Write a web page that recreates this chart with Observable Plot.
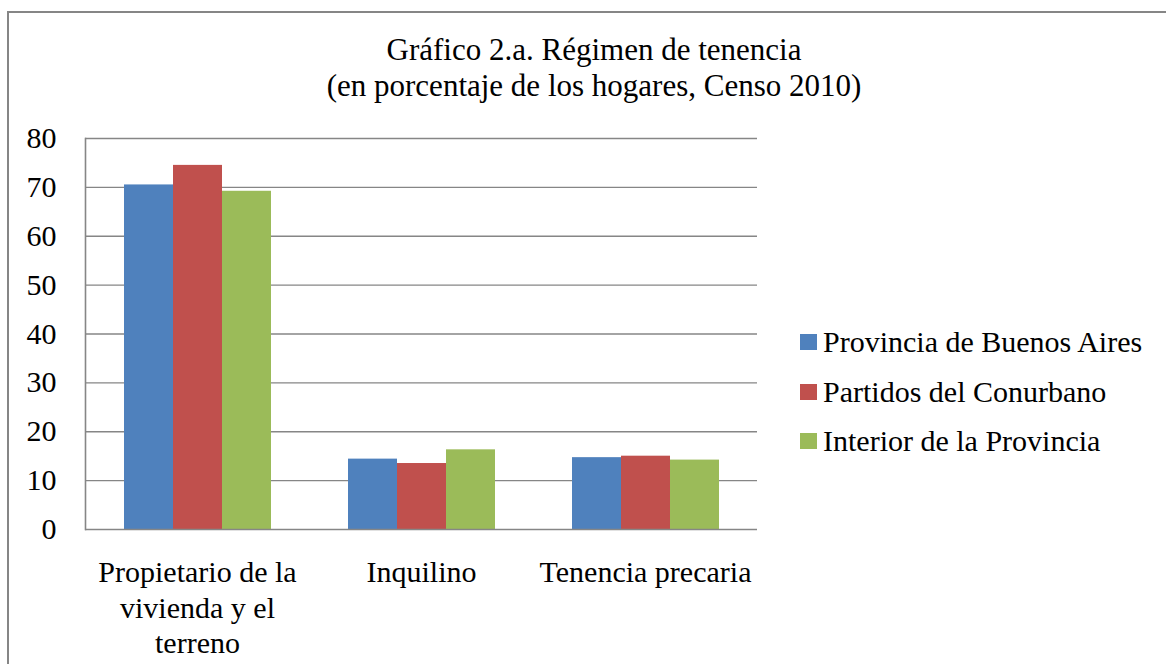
<!DOCTYPE html>
<html>
<head>
<meta charset="utf-8">
<script src="https://cdn.jsdelivr.net/npm/d3@7"></script>
<script src="https://cdn.jsdelivr.net/npm/@observablehq/plot@0.6"></script>
<style>
  body { margin: 0; background: #fff; }
  #wrap { position: relative; width: 1166px; height: 664px; overflow: hidden;
          font-family: "Liberation Serif", "DejaVu Serif", serif; color: #000; background: #fff; }
  #border { position: absolute; left: 7px; top: 11px; width: 1200px; height: 700px;
            border-left: 2px solid #868686; border-top: 2px solid #868686; }
  .title { position: absolute; left: 294px; width: 600px; text-align: center;
           font-size: 31px; line-height: 36px; white-space: nowrap; }
  #chart { position: absolute; left: 0; top: 0; }
  .lg { position: absolute; left: 800px; height: 50px; display: flex; align-items: center;
        font-size: 30px; white-space: nowrap; }
  .sw { width: 17px; height: 16px; margin-right: 6px; flex: none; }
  #chart text { font-family: "Liberation Serif", "DejaVu Serif", serif; }
</style>
</head>
<body>
<div id="wrap">
  <div id="border"></div>
  <div id="chart"></div>
  <div class="title" style="top:32px">Gráfico 2.a. Régimen de tenencia</div>
  <div class="title" style="top:68px">(en porcentaje de los hogares, Censo 2010)</div>
  <div id="legend"></div>
</div>
<script>
const categories = ["Propietario de la vivienda y el terreno", "Inquilino", "Tenencia precaria"];
const categoryLabels = ["Propietario de la\nvivienda y el\nterreno", "Inquilino", "Tenencia precaria"];
const series = ["Provincia de Buenos Aires", "Partidos del Conurbano", "Interior de la Provincia"];
const provinciaBuenosAires = [70.5, 14.4, 14.7];
const partidosConurbano = [74.5, 13.5, 15.0];
const interiorProvincia = [69.2, 16.3, 14.2];
const colors = ["#4F81BD", "#C0504D", "#9BBB59"];
const yTicks = [0, 10, 20, 30, 40, 50, 60, 70, 80];

const seriesValues = [provinciaBuenosAires, partidosConurbano, interiorProvincia];
const rows = [];
categories.forEach((c, i) => {
  series.forEach((s, j) => rows.push({category: c, series: s, value: seriesValues[j][i]}));
});

const gridColor = "#868686";

const chart = Plot.plot({
  width: 1166,
  height: 664,
  marginLeft: 84,
  marginRight: 409,
  marginTop: 138,
  marginBottom: 135,
  style: {fontFamily: "Liberation Serif, DejaVu Serif, serif", fontSize: "30px", color: "#000", background: "transparent"},
  fx: {domain: categories, padding: 0, axis: null, label: null},
  x: {domain: series, paddingInner: 0, paddingOuter: 0.76, axis: null},
  y: {domain: [0, 80], axis: null},
  color: {domain: series, range: colors},
  marks: [
    Plot.ruleY(yTicks.filter(d => d > 0), {stroke: gridColor, strokeWidth: 1.4}),
    Plot.barY(rows, {fx: "category", x: "series", y: "value", fill: "series"}),
    Plot.ruleY([0], {stroke: gridColor, strokeWidth: 1.6}),
    Plot.frame({anchor: "left", facetAnchor: "left", stroke: gridColor, strokeWidth: 1.6}),
    Plot.text(yTicks, {fx: () => categories[0], y: d => d, text: d => String(d),
      frameAnchor: "left", textAnchor: "end", dx: -29, fontSize: 30}),
    Plot.text(categories, {fx: d => d, text: (d, i) => categoryLabels[i],
      frameAnchor: "bottom", lineAnchor: "top", dy: 28, fontSize: 30, lineHeight: 1.17})
  ]
});
document.getElementById("chart").appendChild(chart);

const legend = document.getElementById("legend");
const legendCenters = [342, 392, 441];
series.forEach((s, i) => {
  const row = document.createElement("div");
  row.className = "lg";
  row.style.top = (legendCenters[i] - 25) + "px";
  const sw = document.createElement("div");
  sw.className = "sw";
  sw.style.background = colors[i];
  const t = document.createElement("span");
  t.textContent = s;
  row.appendChild(sw);
  row.appendChild(t);
  legend.appendChild(row);
});
</script>
</body>
</html>
